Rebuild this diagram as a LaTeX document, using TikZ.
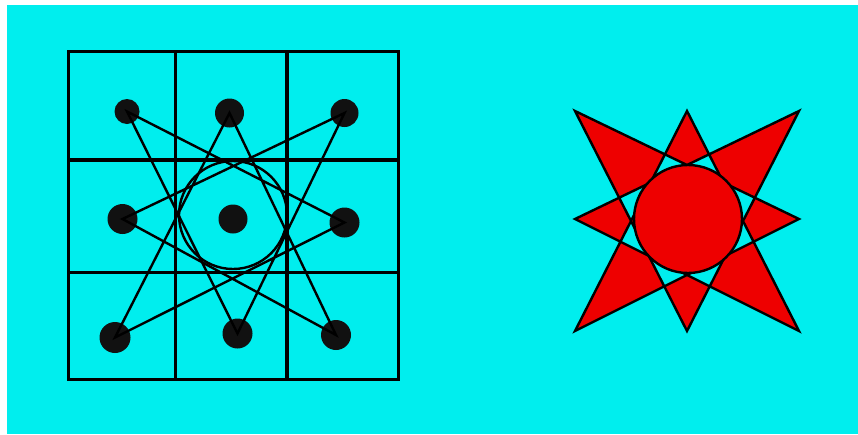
\documentclass[tikz,border=0pt]{standalone}
\usepackage{tikz}
\usetikzlibrary{positioning}
\definecolor{aqua}{HTML}{00EEEE}
\definecolor{sunred}{HTML}{EE0000}
\definecolor{ink}{HTML}{111111}

\begin{document}
\begin{tikzpicture}[x=1pt,y=-1pt,
        dot/.style={circle, fill=ink, inner sep=0pt, minimum size=#1},
        dot/.default=29pt,
        gridline/.style={line width=3.8pt, line cap=rect},
        link/.style={line width=2.4pt}]
    \fill[white] (0,0) rectangle (858,434);
    \fill[aqua] (7,5) rectangle (858,434);
    \useasboundingbox (0,0) rectangle (858,434);

    % grid
    \draw[gridline] (68.5,51.5) rectangle (398.5,379.5);
    \draw[gridline] (175.5,51.5) -- (175.5,379.5) (287,51.5) -- (287,379.5);
    \draw[gridline] (68.5,160) -- (398.5,160) (68.5,272.5) -- (398.5,272.5);

    \node[draw, circle, link, inner sep=0pt, minimum size=108pt] (ring) at (233,215) {};

    \node[dot=25pt] (tl) at (127,111.5) {};
    \node[dot=29pt] (tm) at (229.5,113) {};
    \node[dot=28pt] (tr) at (344.5,113) {};
    \node[dot=30pt] (mr) at (344.5,222.5) {};
    \node[dot=30pt] (br) at (336,335) {};
    \node[dot=30pt] (bm) at (237.5,333.5) {};
    \node[dot=31pt] (bl) at (115,337.5) {};
    \node[dot=30pt] (ml) at (122.5,219) {};
    \node[dot] (c) at (233,219) {};

    \draw[link] (tl.center) -- (mr.center) -- (bl.center) -- (tm.center) -- (br.center)
        -- (ml.center) -- (tr.center) -- (bm.center) -- cycle;

    % sun
    \coordinate (s1) at (575,111);
    \coordinate (s2) at (687,111);
    \coordinate (s3) at (799,111);
    \coordinate (s4) at (799,219);
    \coordinate (s5) at (799,331);
    \coordinate (s6) at (687,331);
    \coordinate (s7) at (575,331);
    \coordinate (s8) at (575,219);
    \filldraw[fill=sunred, link, even odd rule] (s1) -- (s4) -- (s7) -- (s2) -- (s5)
        -- (s8) -- (s3) -- (s6) -- cycle;
    \node[circle, fill=sunred, draw, link, inner sep=0pt, minimum size=108pt] (sun) at (688,219) {};
\end{tikzpicture}
\end{document}
